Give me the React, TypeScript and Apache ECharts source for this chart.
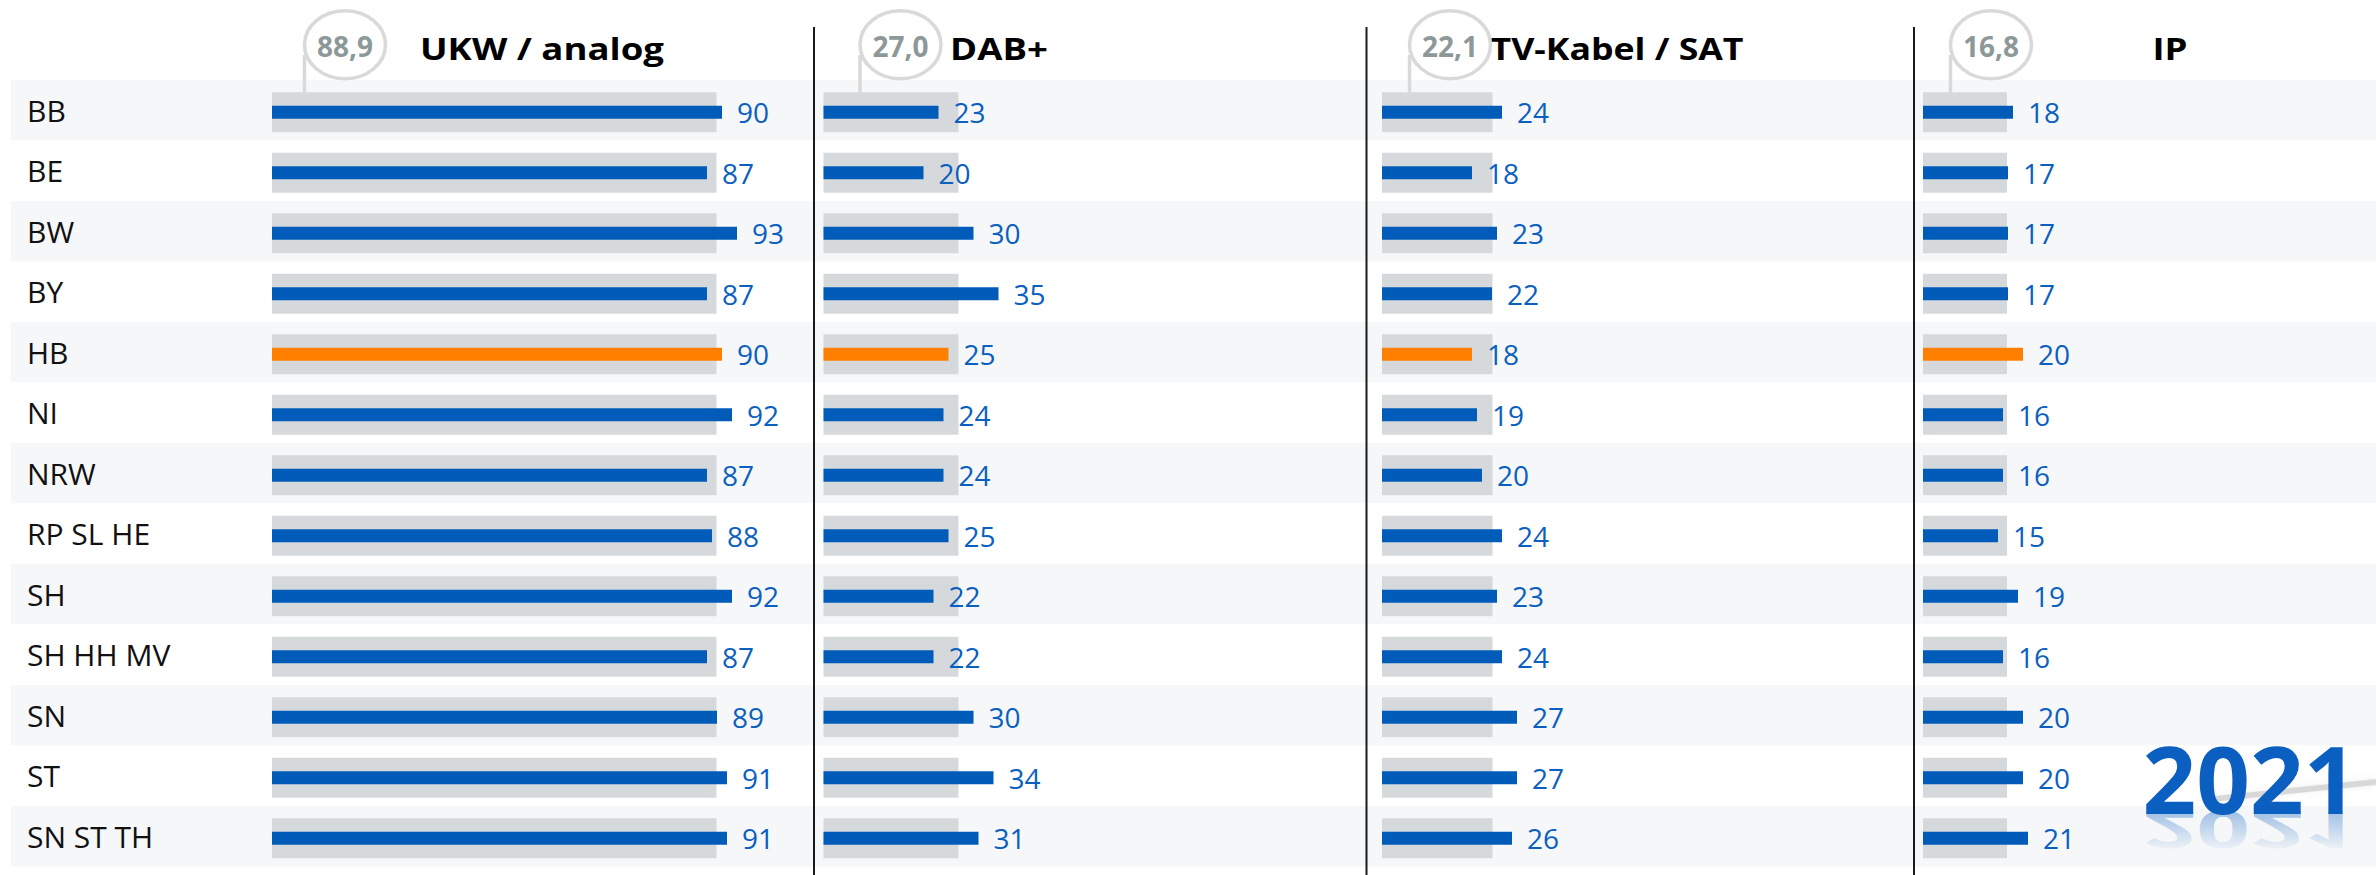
import React, { useEffect, useRef } from "react";
import * as echarts from "echarts";

// ---------- data ----------
const states = ["BB", "BE", "BW", "BY", "HB", "NI", "NRW", "RP SL HE", "SH", "SH HH MV", "SN", "ST", "SN ST TH"];
const ukwValues = [90, 87, 93, 87, 90, 92, 87, 88, 92, 87, 89, 91, 91];
const dabValues = [23, 20, 30, 35, 25, 24, 24, 25, 22, 22, 30, 34, 31];
const tvValues = [24, 18, 23, 22, 18, 19, 20, 24, 23, 24, 27, 27, 26];
const ipValues = [18, 17, 17, 17, 20, 16, 16, 15, 19, 16, 20, 20, 21];
const averages = [88.9, 27.0, 22.1, 16.8];
const columnTitles = ["UKW / analog", "DAB+", "TV-Kabel / SAT", "IP"];
const highlightedState = "HB";
const yearLabel = "2021";

// ---------- layout / style ----------
const W = 2376;
const H = 875;
const ROW_TOP = 80;
const ROW_H = 60.5;
const BAR_TOP = 82;
const SCALE = 5; // px per percentage point
const COL_LEFT = [272, 823.5, 1382, 1923];
const COL_MAX = [100, 50, 50, 50];
const BUBBLE_DX = [73, 77, 68, 68];
const TITLE_X = [542, 999, 1617, 2170];
const TITLE_SCALE = [1.18, 1.18, 1.15, 1.18];
const SEP_X = [814, 1366.5, 1914];

const FONT = '"Open Sans", "Noto Sans", sans-serif';
const BLUE = "#005bb9";
const ORANGE = "#ff7f00";
const LABEL_BLUE = "#0b5fbf";
const GRAY_BAR = "#d6d9db";
const BAND = "#f6f7f9";
const BUBBLE_GRAY = "#d9d9d9";
const BUBBLE_TEXT = "#8d9899";

export default function App() {
  const ref = useRef<HTMLDivElement>(null);

  useEffect(() => {
    document.body.style.margin = "0";
    const chart = echarts.init(ref.current as HTMLDivElement, null, { renderer: "svg" });
    const columns = [ukwValues, dabValues, tvValues, ipValues];
    const plotH = ROW_H * states.length;

    const grids: any[] = [
      { left: 11, right: 0, top: ROW_TOP, height: plotH, outerBoundsMode: "none", containLabel: false },
    ];
    const xAxes: any[] = [{ gridIndex: 0, type: "value", show: false, min: 0, max: 1 }];
    const yAxes: any[] = [
      {
        gridIndex: 0,
        type: "category",
        data: states,
        inverse: true,
        axisLine: { show: false },
        axisTick: { show: false },
        splitLine: { show: false },
        splitArea: { show: true, interval: 0, areaStyle: { color: [BAND, "#ffffff"] } },
        axisLabel: {
          inside: true,
          interval: 0,
          margin: 16,
          align: "left",
          fontSize: 30,
          color: "#111111",
          fontFamily: FONT,
        },
      },
    ];
    const series: any[] = [];

    columns.forEach((vals, i) => {
      // two overlapping grids per column: average (gray) and values (blue)
      for (let k = 0; k < 2; k++) {
        const gi = grids.length;
        grids.push({
          left: COL_LEFT[i],
          width: COL_MAX[i] * SCALE,
          top: BAR_TOP,
          height: plotH,
          outerBoundsMode: "none",
          containLabel: false,
        });
        xAxes.push({ gridIndex: gi, type: "value", show: false, min: 0, max: COL_MAX[i] });
        yAxes.push({ gridIndex: gi, type: "category", data: states, inverse: true, show: false });
        if (k === 0) {
          series.push({
            type: "bar",
            name: columnTitles[i] + " Ø",
            xAxisIndex: gi,
            yAxisIndex: gi,
            data: states.map(() => averages[i]),
            barWidth: 40,
            silent: true,
            itemStyle: { color: GRAY_BAR },
            z: 2,
          });
        } else {
          series.push({
            type: "bar",
            name: columnTitles[i],
            xAxisIndex: gi,
            yAxisIndex: gi,
            data: vals.map((v, r) => ({
              value: v,
              itemStyle: { color: states[r] === highlightedState ? ORANGE : BLUE },
            })),
            barWidth: 13,
            z: 3,
            label: {
              show: true,
              position: "right",
              distance: 15,
              fontSize: 28,
              fontFamily: FONT,
              color: LABEL_BLUE,
            },
          });
        }
      }
    });

    const graphics: any[] = [];
    SEP_X.forEach((x) => {
      graphics.push({
        type: "line",
        z: 100,
        shape: { x1: x, y1: 27, x2: x, y2: H },
        style: { stroke: "#1a1a1a", lineWidth: 2 },
      });
    });
    columnTitles.forEach((t, i) => {
      graphics.push({
        type: "text",
        z: 100,
        x: TITLE_X[i],
        y: 48,
        scaleX: TITLE_SCALE[i],
        style: {
          text: t,
          fontSize: 31,
          fontWeight: "bold",
          fontFamily: FONT,
          fill: "#000000",
          align: "center",
          verticalAlign: "middle",
        },
      });
      const cx = COL_LEFT[i] + BUBBLE_DX[i];
      const cy = 44.7;
      graphics.push({
        type: "line",
        z: 100,
        shape: { x1: cx - 40.5, y1: 55, x2: cx - 40.5, y2: 100 },
        style: { stroke: BUBBLE_GRAY, lineWidth: 3.5 },
      });
      graphics.push({
        type: "ellipse",
        z: 101,
        shape: { cx, cy, rx: 40.5, ry: 34 },
        style: { fill: "#ffffff", stroke: BUBBLE_GRAY, lineWidth: 3.5 },
      });
      graphics.push({
        type: "text",
        z: 102,
        x: cx,
        y: 45.5,
        style: {
          text: averages[i].toFixed(1).replace(".", ","),
          fontSize: 28,
          fontWeight: "bold",
          fontFamily: FONT,
          fill: BUBBLE_TEXT,
          align: "center",
          verticalAlign: "middle",
        },
      });
    });

    // year logo: shadow streak, faded reflection, main text
    graphics.push({
      type: "polygon",
      z: 100,
      shape: { points: [[2205, 797], [2376, 779], [2376, 785], [2212, 802]] },
      style: { fill: "rgba(150,150,150,0.3)", shadowBlur: 6, shadowColor: "rgba(150,150,150,0.5)" },
    });
    graphics.push({
      type: "text",
      z: 101,
      x: 2250,
      y: 831,
      scaleY: -0.55,
      style: {
        text: yearLabel,
        fontSize: 94,
        fontWeight: "bold",
        fontFamily: FONT,
        align: "center",
        verticalAlign: "middle",
        fill: "rgba(10,95,192,0.4)",
      },
    });
    graphics.push({
      type: "rect",
      z: 102,
      shape: { x: 2130, y: 814, width: 246, height: 52.5 },
      style: {
        fill: {
          type: "linear",
          x: 0,
          y: 0,
          x2: 0,
          y2: 1,
          colorStops: [
            { offset: 0, color: "rgba(246,247,249,0.1)" },
            { offset: 0.75, color: "rgba(246,247,249,1)" },
            { offset: 1, color: "rgba(246,247,249,1)" },
          ],
        },
      },
    });
    graphics.push({
      type: "text",
      z: 103,
      x: 2250,
      y: 777.5,
      style: {
        text: yearLabel,
        fontSize: 94,
        fontWeight: "bold",
        fontFamily: FONT,
        fill: "#0a5fc0",
        align: "center",
        verticalAlign: "middle",
      },
    });

    chart.setOption({
      animation: false,
      backgroundColor: "#ffffff",
      grid: grids,
      xAxis: xAxes,
      yAxis: yAxes,
      series,
      graphic: graphics,
    });

    return () => chart.dispose();
  }, []);

  return <div ref={ref} style={{ width: W, height: H }} />;
}
